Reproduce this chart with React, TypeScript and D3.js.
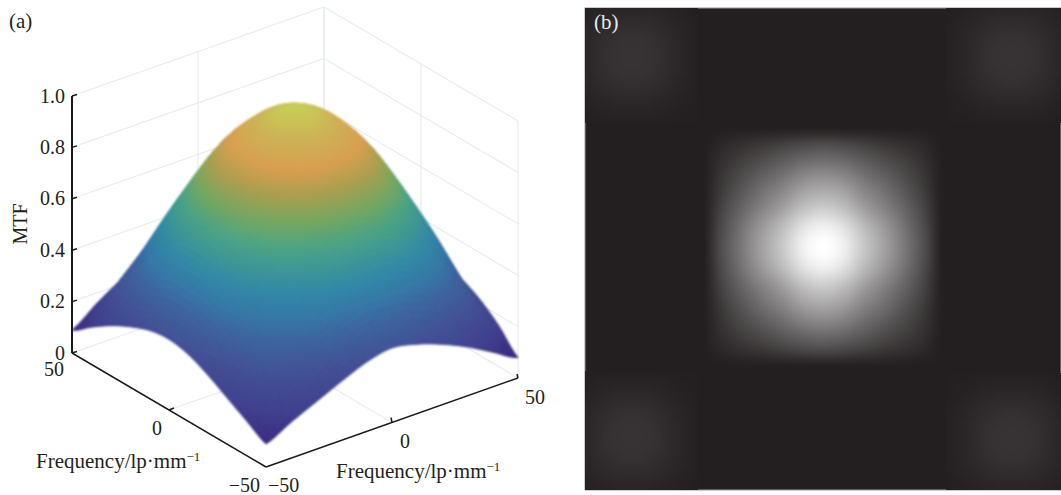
import React from "react";
import * as d3 from "d3";

// ---------- panel (a) data ----------
const freqTicks = [-50, 0, 50];
const mtfTicks = [0, 0.2, 0.4, 0.6, 0.8, 1.0];
const gridFreq = [-50, -40, -30, -20, -10, 0, 10, 20, 30, 40, 50];
const mtfGrid = [
  [0.09, 0.135, 0.18, 0.225, 0.26, 0.275, 0.265, 0.235, 0.195, 0.145, 0.09],
  [0.14, 0.27, 0.37, 0.46, 0.51, 0.52, 0.51, 0.46, 0.37, 0.27, 0.16],
  [0.185, 0.37, 0.52, 0.63, 0.70, 0.72, 0.70, 0.63, 0.52, 0.37, 0.22],
  [0.23, 0.46, 0.63, 0.77, 0.85, 0.87, 0.85, 0.77, 0.63, 0.46, 0.26],
  [0.27, 0.51, 0.70, 0.85, 0.93, 0.965, 0.93, 0.85, 0.70, 0.51, 0.29],
  [0.29, 0.52, 0.72, 0.87, 0.965, 1.00, 0.965, 0.87, 0.72, 0.52, 0.30],
  [0.27, 0.51, 0.70, 0.85, 0.93, 0.965, 0.93, 0.85, 0.70, 0.51, 0.29],
  [0.235, 0.46, 0.63, 0.77, 0.85, 0.87, 0.85, 0.77, 0.63, 0.46, 0.26],
  [0.19, 0.37, 0.52, 0.63, 0.70, 0.72, 0.70, 0.63, 0.52, 0.37, 0.22],
  [0.135, 0.27, 0.37, 0.46, 0.51, 0.52, 0.51, 0.46, 0.37, 0.27, 0.16],
  [0.08, 0.16, 0.22, 0.26, 0.29, 0.30, 0.29, 0.26, 0.22, 0.16, 0.09],
];
const colorDomain = [0.09, 0.168, 0.27, 0.385, 0.43, 0.518, 0.648, 0.72, 0.8, 0.874, 0.95, 1.0];
const colorRange = ["#3a2a80", "#3f408e", "#414f94", "#3c669f", "#3674a6", "#3088a6", "#4aa384", "#72a863", "#a8a050", "#d9a050", "#cdb455", "#c8cc58"];

// ---------- panel (b) data: grey levels ----------
const centerOffsets = [-120, -100, -80, -60, -40, -20, 0, 20, 40, 60, 80, 100, 120];
const centerQuadrant = [
  [255, 240, 202, 165, 125, 84, 35],
  [240, 226, 190, 156, 119, 80, 35],
  [202, 190, 160, 132, 104, 72, 35],
  [165, 156, 132, 112, 88, 63, 35],
  [125, 119, 104, 88, 72, 55, 35],
  [84, 80, 72, 63, 55, 46, 35],
  [35, 35, 35, 35, 35, 35, 35],
];
const lobeOffsets = [-66, -44, -22, 0, 22, 44, 66];
const lobeGrid = [
  [36, 36, 37, 37, 37, 36, 36],
  [36, 39, 43, 44, 43, 39, 36],
  [37, 43, 50, 53, 50, 43, 37],
  [37, 44, 53, 55, 53, 44, 37],
  [37, 43, 50, 53, 50, 43, 37],
  [36, 39, 43, 44, 43, 39, 36],
  [36, 36, 37, 37, 37, 36, 36],
];
const lobeCenters = [[632, 57], [1012, 57], [632, 437], [1012, 439]];
const BG = 35;

// ---------- helpers ----------
const cr = (a: number, b: number, c: number, d: number, t: number) =>
  0.5 * (2 * b + (c - a) * t + (2 * a - 5 * b + 4 * c - d) * t * t + (3 * b - a - 3 * c + d) * t * t * t);

function sampler(grid: number[][], x0: number, step: number) {
  const n = grid.length;
  const at = (i: number, j: number) => grid[Math.max(0, Math.min(n - 1, i))][Math.max(0, Math.min(n - 1, j))];
  return (x: number, y: number) => {
    const fx = (x - x0) / step, fy = (y - x0) / step;
    if (fx < 0 || fy < 0 || fx > n - 1 || fy > n - 1) return NaN;
    const cx = Math.min(n - 1 - 1e-9, fx), cy = Math.min(n - 1 - 1e-9, fy);
    const i = Math.floor(cx), j = Math.floor(cy);
    const r = [-1, 0, 1, 2].map((k) =>
      cr(at(i + k, j - 1), at(i + k, j), at(i + k, j + 1), at(i + k, j + 2), cy - j));
    return cr(r[0], r[1], r[2], r[3], cx - i);
  };
}

// projection of the 3-D box (front corner at bottom)
const px = d3.scaleLinear().domain([-50, 50]).range([0, 252]);
const pxy = d3.scaleLinear().domain([-50, 50]).range([0, -89]);
const qx = d3.scaleLinear().domain([-50, 50]).range([0, -194]);
const qy = d3.scaleLinear().domain([-50, 50]).range([0, -114]);
const zs = d3.scaleLinear().domain([0, 1]).range([0, -257]);
const FRONT: [number, number] = [266, 467];
const proj = (u: number, v: number, z: number): [number, number] => [
  FRONT[0] + px(u) + qx(v),
  FRONT[1] + pxy(u) + qy(v) + zs(z),
];
const color = d3.scaleLinear<string>().domain(colorDomain).range(colorRange).interpolate(d3.interpolateRgb);
const line = d3.line();

function Surface() {
  const f = sampler(mtfGrid, gridFreq[0], gridFreq[1] - gridFreq[0]);
  const N = 100;
  const st = d3.scaleLinear().domain([0, N]).range([-50, 50]);
  const cells: { k: number; d: string; c: string }[] = [];
  for (let i = 0; i < N; i++) {
    for (let j = 0; j < N; j++) {
      const u0 = st(i), u1 = st(i + 1), v0 = st(j), v1 = st(j + 1);
      const pts: [number, number][] = [
        proj(u0, v0, f(u0, v0)), proj(u1, v0, f(u1, v0)),
        proj(u1, v1, f(u1, v1)), proj(u0, v1, f(u0, v1)),
      ];
      cells.push({ k: i + j, d: line(pts)! + "Z", c: color(f((u0 + u1) / 2, (v0 + v1) / 2)) });
    }
  }
  cells.sort((a, b) => b.k - a.k);
  return (
    <g filter="url(#soft)">
      {cells.map((c, i) => (
        <path key={i} d={c.d} fill={c.c} stroke={c.c} strokeWidth={1} />
      ))}
    </g>
  );
}

function Walls() {
  const c = "#e9ecee";
  const segs: [number, number][][] = [];
  for (const t of mtfTicks) {
    segs.push([proj(50, -50, t), proj(50, 50, t)]);
    segs.push([proj(50, 50, t), proj(-50, 50, t)]);
  }
  for (const t of freqTicks) {
    segs.push([proj(t, 50, 0), proj(t, 50, 1)]);
    segs.push([proj(50, t, 0), proj(50, t, 1)]);
  }
  segs.push([proj(0, -50, 0), proj(0, 50, 0)]);
  segs.push([proj(-50, 0, 0), proj(50, 0, 0)]);
  return (
    <g fill="none" stroke={c} strokeWidth={1.2}>
      {segs.map((s, i) => <path key={i} d={line(s)!} />)}
    </g>
  );
}

function Axes() {
  const axisPaths: [number, number][][] = [
    [proj(-50, 50, 1), proj(-50, 50, 0)],
    [proj(-50, 50, 0), proj(-50, -50, 0)],
    [proj(-50, -50, 0), proj(50, -50, 0)],
  ];
  const ticksZ = mtfTicks.map((t) => {
    const p = proj(-50, 50, t);
    return [p, [p[0] + 5, p[1] - 1.5]] as [number, number][];
  });
  const a = proj(-50, 0, 0);
  const b = proj(0, -50, 0);
  const c = proj(50, -50, 0);
  return (
    <g fill="none" stroke="#1a1a1a">
      <path d={line(axisPaths[0])!} strokeWidth={2} />
      <path d={line(axisPaths[1])!} strokeWidth={1.5} />
      <path d={line(axisPaths[2])!} strokeWidth={1.5} />
      {ticksZ.map((s, i) => <path key={i} d={line(s)!} strokeWidth={1.5} />)}
      <path d={line([a, [a[0] + 5, a[1] - 2]])!} strokeWidth={1.5} />
      <path d={line([b, [b[0] - 1, b[1] - 5]])!} strokeWidth={1.5} />
      <path d={line([c, [c[0] - 1, c[1] - 4]])!} strokeWidth={1.5} />
    </g>
  );
}

function FreqLabel({ x, y }: { x: number; y: number }) {
  return (
    <text x={x} y={y} fontSize={21}>
      Frequency/lp·mm
      <tspan dy={-7} fontSize={13}>−1</tspan>
    </text>
  );
}

function Labels() {
  const tx = (s: string, x: number, y: number, anchor = "middle") => (
    <text key={s + x + y} x={x} y={y} textAnchor={anchor} fontSize={20}>{s}</text>
  );
  const zLabels = mtfTicks.map((t) => {
    const p = proj(-50, 50, t);
    return tx(t === 0 ? "0" : t.toFixed(1), 65, p[1] + 6.5, "end");
  });
  const fmt = (v: number) => (v < 0 ? "−" + Math.abs(v) : String(v));
  return (
    <g fill="#231f20" fontFamily="'Liberation Serif', serif">
      {zLabels}
      {tx(fmt(freqTicks[2]), 64, 376, "end")}
      {tx(fmt(freqTicks[1]), 157, 435)}
      {tx(fmt(freqTicks[0]), 260, 492, "end")}
      {tx(fmt(freqTicks[0]), 268, 492, "start")}
      {tx(fmt(freqTicks[1]), 405, 448)}
      {tx(fmt(freqTicks[2]), 535, 404)}
      <text transform="translate(27,224) rotate(-90)" textAnchor="middle" fontSize={20}>MTF</text>
      <FreqLabel x={36} y={468} />
      <FreqLabel x={336} y={478} />
      <text x={9} y={28} fontSize={21}>(a)</text>
    </g>
  );
}

const grey = (g: number) => {
  const t = (g - BG) / (255 - BG);
  return `rgb(${g},${Math.round(g - 4 * (1 - t))},${Math.round(g - 3 * (1 - t))})`;
};

function GreyCells({ cx, cy, half, cell, fn }: { cx: number; cy: number; half: number; cell: number; fn: (x: number, y: number) => number }) {
  const out: React.ReactNode[] = [];
  const L = 585, R = 1061, T = 8, B = 490;
  for (let x = cx - half; x < cx + half; x += cell) {
    for (let y = cy - half; y < cy + half; y += cell) {
      const x0 = Math.max(L, x), x1 = Math.min(R, x + cell);
      const y0 = Math.max(T, y), y1 = Math.min(B, y + cell);
      if (x1 <= x0 || y1 <= y0) continue;
      const v = fn(x + cell / 2 - cx, y + cell / 2 - cy);
      if (!(v > BG)) continue;
      const g = Math.round(Math.min(255, v));
      if (g <= BG) continue;
      out.push(<rect key={`${x}-${y}`} x={x0} y={y0} width={x1 - x0} height={y1 - y0} fill={grey(g)} />);
    }
  }
  return <g shapeRendering="crispEdges">{out}</g>;
}

function PanelB() {
  const rows = [...centerQuadrant.slice(1).reverse(), ...centerQuadrant].map((r) => [...r.slice(1).reverse(), ...r]);
  const fc = sampler(rows, centerOffsets[0], centerOffsets[1] - centerOffsets[0]);
  const fl = sampler(lobeGrid, lobeOffsets[0], lobeOffsets[1] - lobeOffsets[0]);
  return (
    <g>
      <rect x={585} y={8} width={476} height={482} fill="#231f20" stroke="#9a9a9e" strokeWidth={1} />
      {lobeCenters.map(([cx, cy], i) => (
        <GreyCells key={i} cx={cx} cy={cy} half={66} cell={3} fn={fl} />
      ))}
      <GreyCells cx={823} cy={247} half={120} cell={2} fn={fc} />
      <text x={594} y={29} fontSize={21} fill="#e8e8e8" fontFamily="'Liberation Serif', serif">(b)</text>
    </g>
  );
}

export default function App() {
  document.body.style.margin = "0";
  return (
    <svg width={1061} height={495} style={{ position: "absolute", left: 0, top: 0, background: "#fff" }}>
      <defs>
        <filter id="soft" x="-5%" y="-5%" width="110%" height="110%">
          <feGaussianBlur stdDeviation="0.8" />
        </filter>
      </defs>
      <Walls />
      <Surface />
      <Axes />
      <Labels />
      <PanelB />
    </svg>
  );
}
